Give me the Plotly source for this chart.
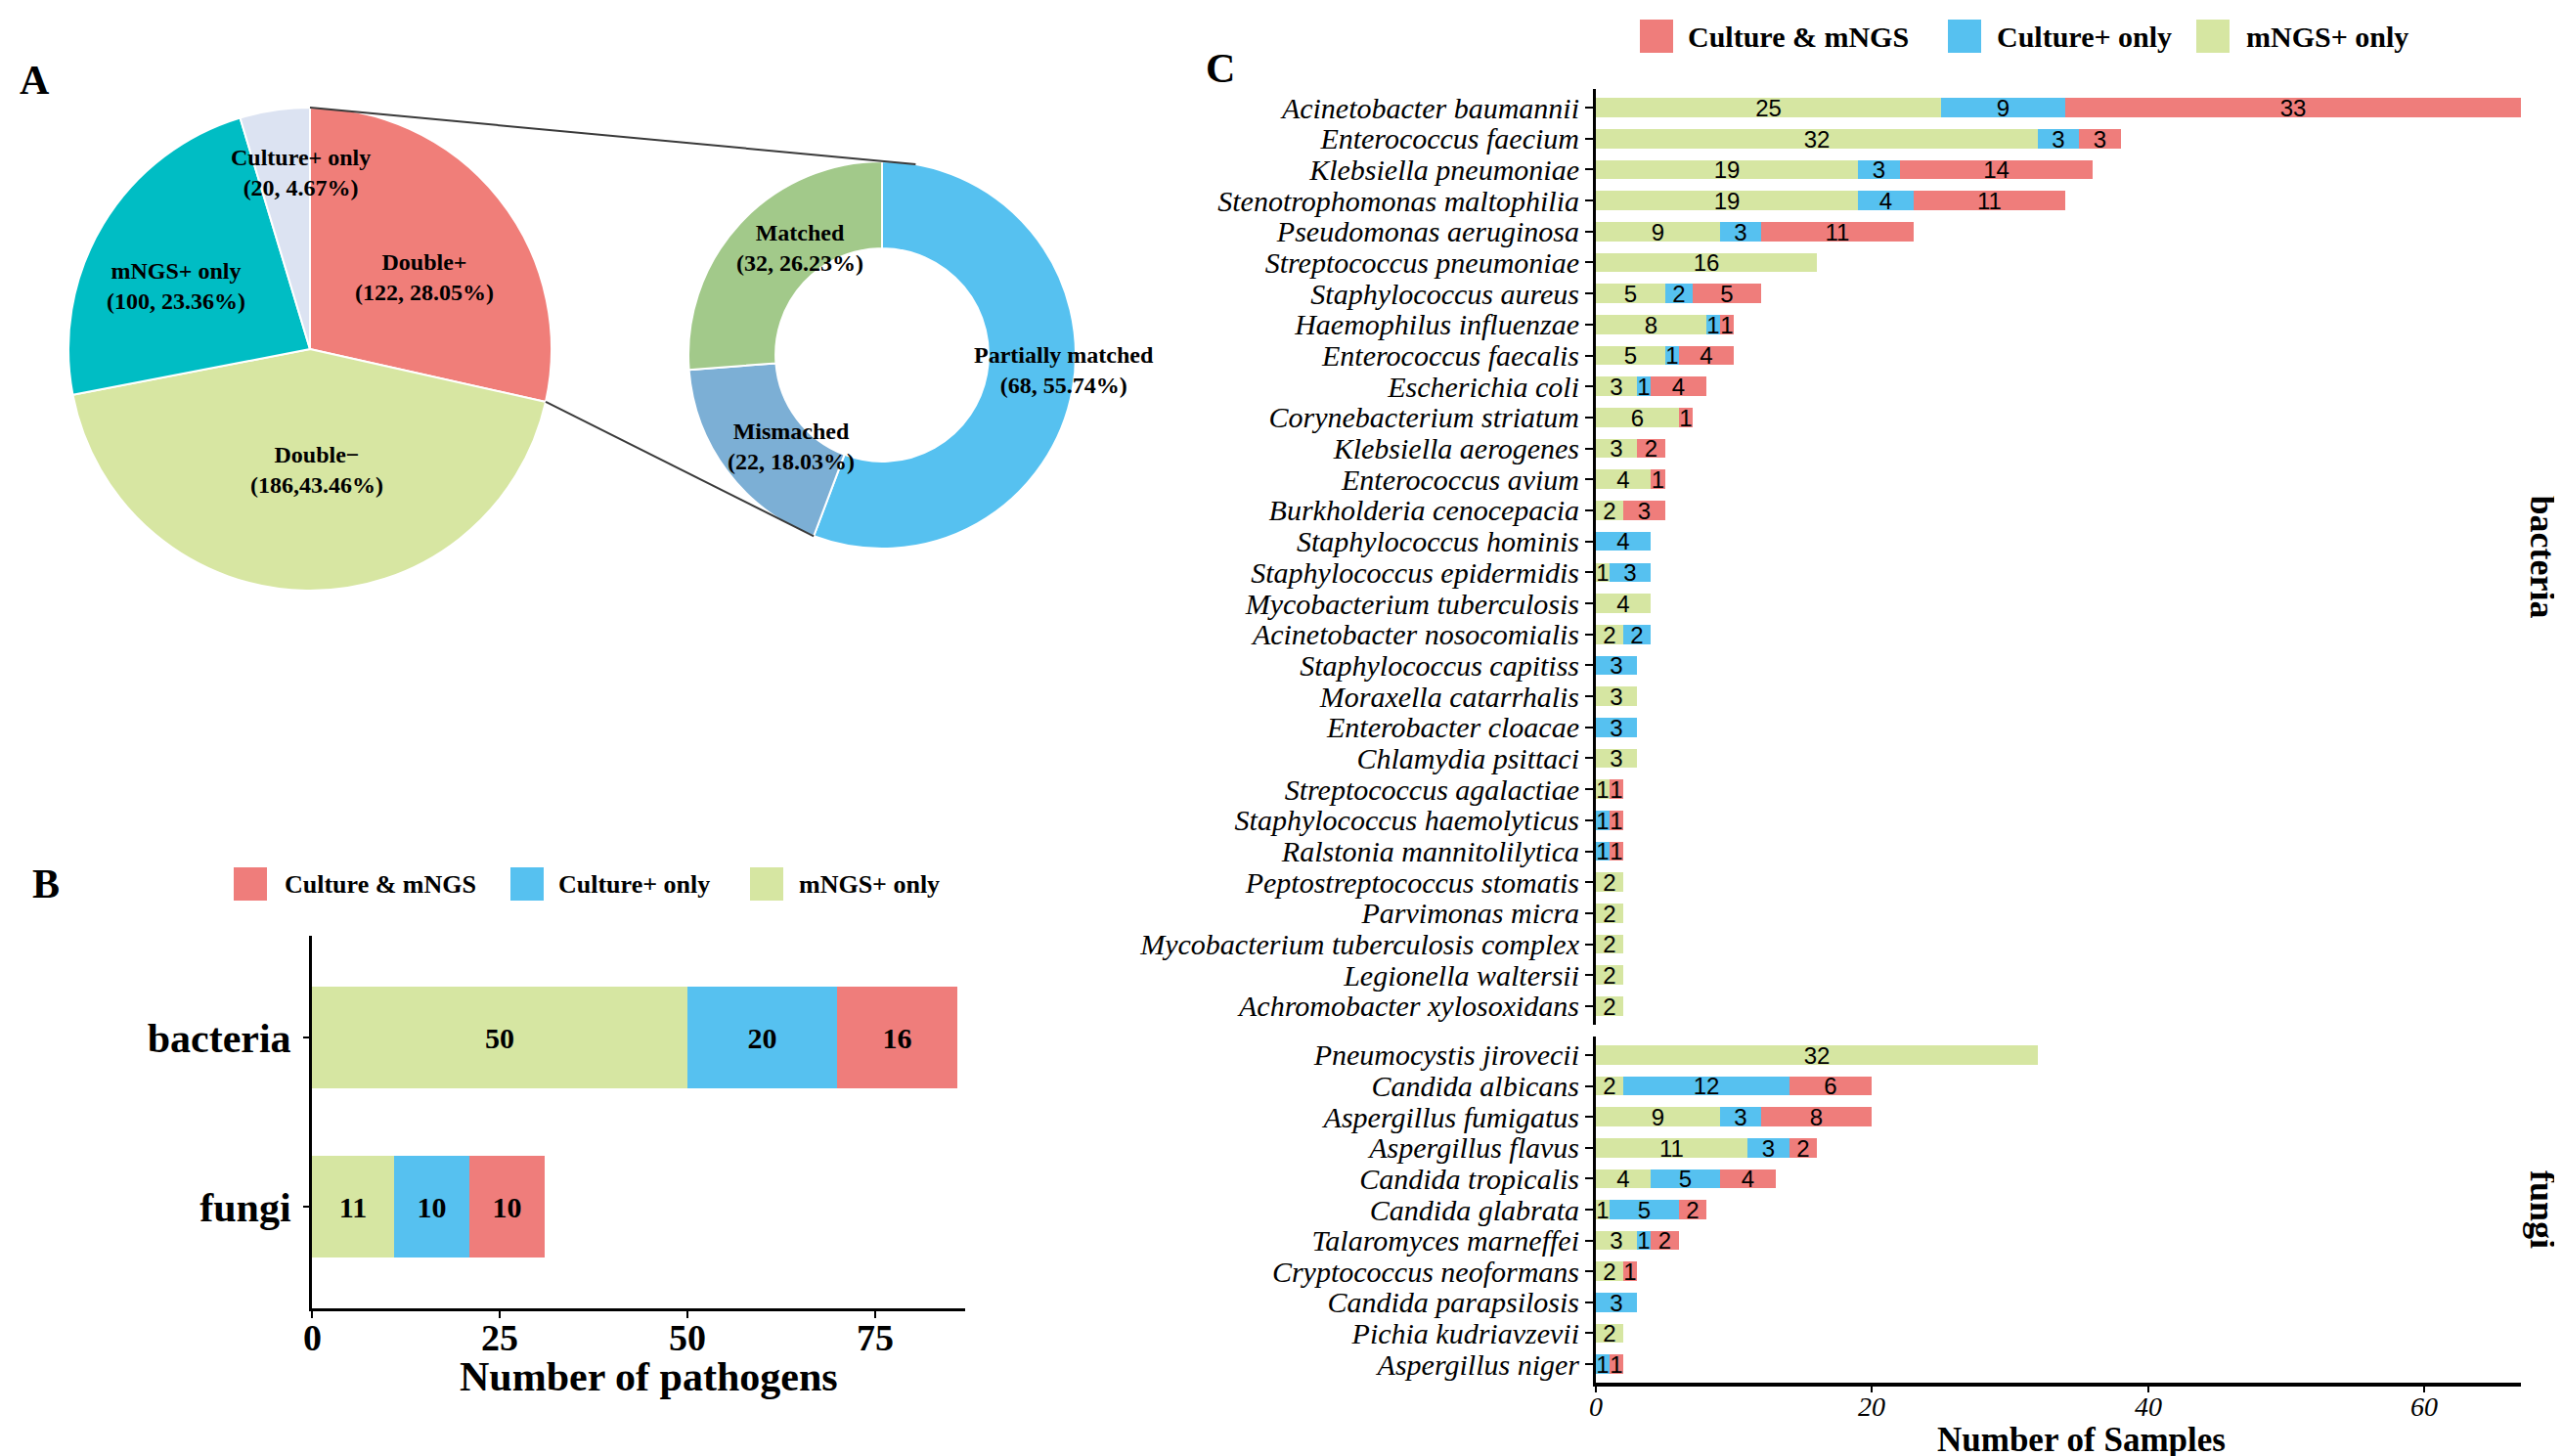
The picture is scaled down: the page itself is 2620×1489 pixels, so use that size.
import math
import plotly.graph_objects as go

W, H = 2620, 1489
SERIF = "Liberation Serif"
SANS = "Liberation Sans"

# ---------------- data ----------------
pieA_labels = ["Double+", "Double−", "mNGS+ only", "Culture+ only"]
pieA_values = [122, 186, 100, 20]
pieA_details = ["(122, 28.05%)", "(186,43.46%)", "(100, 23.36%)", "(20, 4.67%)"]

donut_labels = ["Partially matched", "Mismached", "Matched"]
donut_values = [68, 22, 32]
donut_details = ["(68, 55.74%)", "(22, 18.03%)", "(32, 26.23%)"]

series_names = ["mNGS+ only", "Culture+ only", "Culture & mNGS"]

group_names = ["bacteria", "fungi"]
group_mngs = [50, 11]
group_culture = [20, 10]
group_both = [16, 10]

bacteria_species = [
    "Acinetobacter baumannii", "Enterococcus faecium", "Klebsiella pneumoniae",
    "Stenotrophomonas maltophilia", "Pseudomonas aeruginosa", "Streptococcus pneumoniae",
    "Staphylococcus aureus", "Haemophilus influenzae", "Enterococcus faecalis",
    "Escherichia coli", "Corynebacterium striatum", "Klebsiella aerogenes",
    "Enterococcus avium", "Burkholderia cenocepacia", "Staphylococcus hominis",
    "Staphylococcus epidermidis", "Mycobacterium tuberculosis", "Acinetobacter nosocomialis",
    "Staphylococcus capitiss", "Moraxella catarrhalis", "Enterobacter cloacae",
    "Chlamydia psittaci", "Streptococcus agalactiae", "Staphylococcus haemolyticus",
    "Ralstonia mannitolilytica", "Peptostreptococcus stomatis", "Parvimonas micra",
    "Mycobacterium tuberculosis complex", "Legionella waltersii", "Achromobacter xylosoxidans",
]
bacteria_mngs = [25, 32, 19, 19, 9, 16, 5, 8, 5, 3, 6, 3, 4, 2, 0, 1, 4, 2, 0, 3, 0, 3, 1, 0, 0, 2, 2, 2, 2, 2]
bacteria_culture = [9, 3, 3, 4, 3, 0, 2, 1, 1, 1, 0, 0, 0, 0, 4, 3, 0, 2, 3, 0, 3, 0, 0, 1, 1, 0, 0, 0, 0, 0]
bacteria_both = [33, 3, 14, 11, 11, 0, 5, 1, 4, 4, 1, 2, 1, 3, 0, 0, 0, 0, 0, 0, 0, 0, 1, 1, 1, 0, 0, 0, 0, 0]

fungi_species = [
    "Pneumocystis jirovecii", "Candida albicans", "Aspergillus fumigatus",
    "Aspergillus flavus", "Candida tropicalis", "Candida glabrata",
    "Talaromyces marneffei", "Cryptococcus neoformans", "Candida parapsilosis",
    "Pichia kudriavzevii", "Aspergillus niger",
]
fungi_mngs = [32, 2, 9, 11, 4, 1, 3, 2, 0, 2, 0]
fungi_culture = [0, 12, 3, 3, 5, 5, 1, 0, 3, 0, 1]
fungi_both = [0, 6, 8, 2, 4, 2, 2, 1, 0, 0, 1]

B_ticks = [0, 25, 50, 75]
C_ticks = [0, 20, 40, 60]
axis_titles = ["Number of pathogens", "Number of Samples"]

# ---------------- styles ----------------
GREEN = "#D6E6A2"
BLUE = "#56C1F0"
RED = "#EF7D7B"
series_colors = [GREEN, BLUE, RED]
pieA_colors = ["#F07E79", "#D7E6A2", "#00BDC4", "#DCE3F2"]
donut_colors = ["#56C1F0", "#7CAFD5", "#A2C98A"]


def px(x, y):
    return x / W, 1 - y / H


def bold(size):
    return dict(family=SERIF, size=size, color="black", weight="bold")


fig = go.Figure()

# ---- Panel A: pie + donut ----
A_cx, A_cy, A_r = 309, 349, 247
D_cx, D_cy, D_r = 894, 355, 198
fig.add_trace(go.Pie(
    labels=pieA_labels, values=pieA_values, sort=False, direction="clockwise", rotation=0,
    marker=dict(colors=pieA_colors, line=dict(color="white", width=2)),
    textinfo="none", showlegend=False, hoverinfo="label+value",
    domain=dict(x=[(A_cx - A_r) / W, (A_cx + A_r) / W], y=[1 - (A_cy + A_r) / H, 1 - (A_cy - A_r) / H]),
))
fig.add_trace(go.Pie(
    labels=donut_labels, values=donut_values, sort=False, direction="clockwise", rotation=0,
    hole=0.55, marker=dict(colors=donut_colors, line=dict(color="white", width=2)),
    textinfo="none", showlegend=False, hoverinfo="label+value",
    domain=dict(x=[(D_cx - D_r) / W, (D_cx + D_r) / W], y=[1 - (D_cy + D_r) / H, 1 - (D_cy - D_r) / H]),
))

annotations = []
# label centres (pixels) for the two-line slice labels
pieA_pos = [(426, 275), (316, 472), (172, 285), (299, 168)]
for lab, det, p in zip(pieA_labels, pieA_details, pieA_pos):
    x, y = px(*p)
    annotations.append(dict(text=f"{lab}<br>{det}", x=x, y=y, xref="paper", yref="paper", showarrow=False,
                            font=bold(24), xanchor="center", yanchor="middle", align="center"))
donut_pos = [(1080, 370), (801, 448), (810, 246)]
for lab, det, p in zip(donut_labels, donut_details, donut_pos):
    x, y = px(*p)
    annotations.append(dict(text=f"{lab}<br>{det}", x=x, y=y, xref="paper", yref="paper", showarrow=False,
                            font=bold(24), xanchor="center", yanchor="middle", align="center"))

# connector lines between pie and donut
ang_a = 2 * math.pi * pieA_values[0] / sum(pieA_values)
ang_d = 2 * math.pi * donut_values[0] / sum(donut_values)
a_top = (A_cx, A_cy - A_r)
a_edge = (A_cx + A_r * math.sin(ang_a), A_cy - A_r * math.cos(ang_a))
d_top = (D_cx + D_r * math.sin(math.radians(10)), D_cy - D_r * math.cos(math.radians(10)))
d_edge = (D_cx + D_r * math.sin(ang_d), D_cy - D_r * math.cos(ang_d))
shapes = []
for p, q in ((a_top, d_top), (a_edge, d_edge)):
    x0, y0 = px(*p)
    x1, y1 = px(*q)
    shapes.append(dict(type="line", xref="paper", yref="paper", x0=x0, y0=y0, x1=x1, y1=y1,
                       line=dict(color="#3A3A3A", width=2)))

# ---- Panel B ----
for name, vals, col in zip(series_names, [group_mngs, group_culture, group_both], series_colors):
    fig.add_trace(go.Bar(
        y=group_names, x=vals, orientation="h", name=name, marker=dict(color=col, line=dict(width=0)),
        width=0.6, text=[str(v) for v in vals], textposition="inside", insidetextanchor="middle",
        textangle=0, constraintext="none", textfont=bold(30), xaxis="x", yaxis="y", showlegend=False,
    ))

# ---- Panel C ----
for name, vals, col in zip(series_names, [bacteria_mngs, bacteria_culture, bacteria_both], series_colors):
    fig.add_trace(go.Bar(
        y=bacteria_species, x=vals, orientation="h", name=name, marker=dict(color=col, line=dict(width=0)),
        width=0.62, text=[str(v) if v else "" for v in vals], textposition="inside",
        insidetextanchor="middle", textangle=0, constraintext="none",
        textfont=dict(family=SANS, size=24, color="black"), xaxis="x2", yaxis="y2", showlegend=False,
    ))
for name, vals, col in zip(series_names, [fungi_mngs, fungi_culture, fungi_both], series_colors):
    fig.add_trace(go.Bar(
        y=fungi_species, x=vals, orientation="h", name=name, marker=dict(color=col, line=dict(width=0)),
        width=0.62, text=[str(v) if v else "" for v in vals], textposition="inside",
        insidetextanchor="middle", textangle=0, constraintext="none",
        textfont=dict(family=SANS, size=24, color="black"), xaxis="x3", yaxis="y3", showlegend=False,
    ))

# legends drawn as swatches + text
legend_order = [2, 1, 0]  # Culture & mNGS, Culture+ only, mNGS+ only
B_leg = [(231, 281), (514, 561), (759, 807)]
C_leg = [(1669, 1716), (1984, 2032), (2238, 2287)]
for (sq_specs, cy, sz, fs) in ((B_leg, 896, 34, 26), (C_leg, 29, 34, 30)):
    for idx, (sx, tx) in zip(legend_order, sq_specs):
        x0, y0 = px(sx, cy + sz / 2)
        x1, y1 = px(sx + sz, cy - sz / 2)
        shapes.append(dict(type="rect", xref="paper", yref="paper", x0=x0, y0=y0, x1=x1, y1=y1,
                           fillcolor=series_colors[idx], line=dict(width=0)))
        x, y = px(tx, cy)
        annotations.append(dict(text=series_names[idx], x=x, y=y, xref="paper", yref="paper",
                                showarrow=False, xanchor="left", yanchor="middle", font=bold(fs)))

# panel letters
for letter, p in (("A", (27, 74)), ("B", (39, 896)), ("C", (1240, 62))):
    x, y = px(*p)
    annotations.append(dict(text=letter, x=x, y=y, xref="paper", yref="paper", showarrow=False,
                            xanchor="center", yanchor="middle", font=bold(42)))

# x tick labels placed on the axes' own scales
for v in B_ticks:
    annotations.append(dict(text=str(v), x=v, xref="x", y=1 - 1337 / H, yref="paper", showarrow=False,
                            xanchor="center", yanchor="top", font=bold(38)))
for v in C_ticks:
    annotations.append(dict(text=str(v), x=v, xref="x3", y=1 - 1413 / H, yref="paper", showarrow=False,
                            xanchor="center", yanchor="top",
                            font=dict(family=SERIF, size=28, color="black", style="italic")))

# axis titles
for txt, p, fs in ((axis_titles[0], (655, 1400), 42), (axis_titles[1], (2120, 1464), 35)):
    x, y = px(*p)
    annotations.append(dict(text=txt, x=x, y=y, xref="paper", yref="paper", showarrow=False,
                            xanchor="center", yanchor="middle", font=bold(fs)))

# facet strip labels
for txt, yr in (("bacteria", "y2 domain"), ("fungi", "y3 domain")):
    annotations.append(dict(text=txt, x=2592 / W, y=0.5, xref="paper", yref=yr, showarrow=False,
                            textangle=90, xanchor="center", yanchor="middle", font=bold(36)))

axis_common = dict(showgrid=False, zeroline=False, automargin=False, fixedrange=True,
                   linecolor="black", tickcolor="black")
italic30 = dict(family=SERIF, size=30, color="black", style="italic")

fig.update_layout(
    width=W, height=H, margin=dict(l=0, r=0, t=0, b=0),
    paper_bgcolor="white", plot_bgcolor="white", template="none",
    barmode="stack", bargap=0, showlegend=False,
    xaxis=dict(domain=[311 / W, 979 / W], anchor="y", range=[0, 87], showline=True, linewidth=3,
               ticks="outside", ticklen=7, tickwidth=2, tickvals=B_ticks, showticklabels=False,
               **axis_common),
    yaxis=dict(domain=[1 - 1330 / H, 1 - 949 / H], anchor="x", type="category",
               categoryorder="array", categoryarray=list(reversed(group_names)), range=[-0.6, 1.6],
               showline=True, linewidth=3, ticks="outside", ticklen=6, tickwidth=2,
               tickfont=bold(42), ticklabelstandoff=4, **axis_common),
    xaxis2=dict(domain=[1624 / W, 2570 / W], anchor="y2", range=[0, 67], showline=False,
                showticklabels=False, ticks="", matches="x3", **axis_common),
    yaxis2=dict(domain=[1 - 1040 / H, 1 - 83 / H], anchor="x2", type="category",
                categoryorder="array", categoryarray=list(reversed(bacteria_species)),
                tickmode="array", tickvals=bacteria_species, ticktext=bacteria_species,
                range=[-0.6, len(bacteria_species) - 0.4], showline=True, linewidth=3,
                ticks="outside", ticklen=8, tickwidth=2, tickfont=italic30, **axis_common),
    xaxis3=dict(domain=[1624 / W, 2570 / W], anchor="y3", range=[0, 67], showline=True, linewidth=4,
                ticks="outside", ticklen=6, tickwidth=2, tickvals=C_ticks, showticklabels=False,
                **axis_common),
    yaxis3=dict(domain=[1 - 1406 / H, 1 - 1052 / H], anchor="x3", type="category",
                categoryorder="array", categoryarray=list(reversed(fungi_species)),
                tickmode="array", tickvals=fungi_species, ticktext=fungi_species,
                range=[-0.6, len(fungi_species) - 0.4], showline=True, linewidth=3,
                ticks="outside", ticklen=8, tickwidth=2, tickfont=italic30, **axis_common),
    shapes=shapes, annotations=annotations,
)

fig.write_html("out.html")
